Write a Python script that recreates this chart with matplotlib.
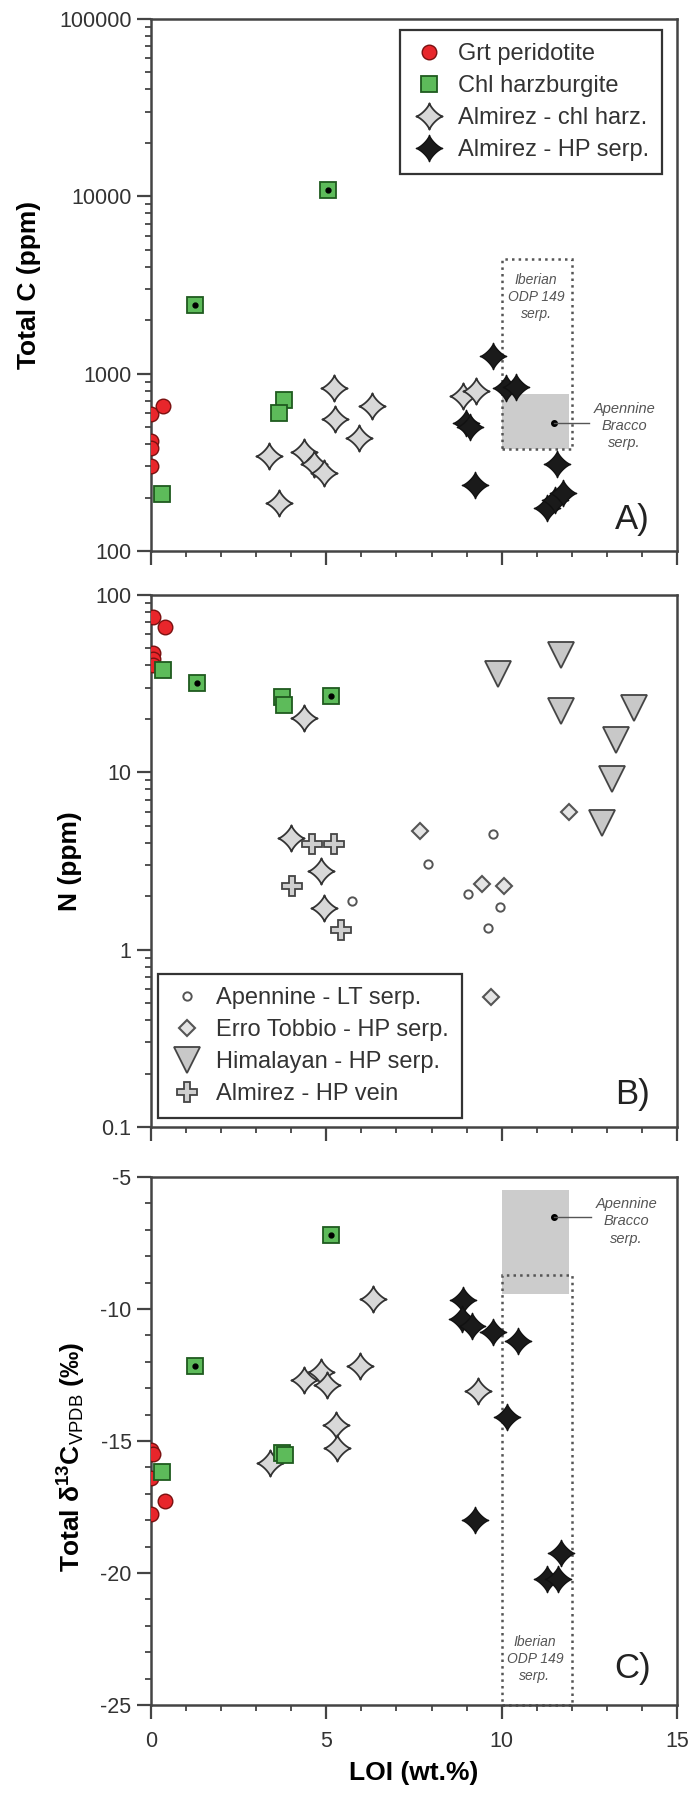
import matplotlib
matplotlib.use("Agg")
import matplotlib.pyplot as plt
import numpy as np
from matplotlib.path import Path
from matplotlib.patches import Rectangle
from matplotlib.ticker import MultipleLocator, LogLocator, FuncFormatter, NullFormatter

plt.rcParams.update({
    "font.family": ["Liberation Sans", "DejaVu Sans"],
    "mathtext.fontset": "custom",
    "mathtext.rm": "Liberation Sans",
    "mathtext.bf": "Liberation Sans:bold",
    "mathtext.it": "Liberation Sans:italic",
})

# ---- data: panel A (LOI wt.%, Total C ppm) ----
grt_loi_a = [0.0, 0.34, 0.0, 0.0, 0.0]
grt_c = [595, 659, 416, 383, 303]
chl_loi_a = [1.25, 5.06, 3.78, 3.64, 0.3]
chl_c = [2430, 10850, 710, 603, 209]
chl_dot_a = [True, True, False, False, False]
almc_loi_a = [3.36, 3.65, 4.37, 4.65, 4.94, 5.23, 5.25, 5.92, 6.3, 8.9, 9.28]
almc_c = [345, 186, 362, 311, 276, 832, 555, 436, 653, 750, 794]
alms_loi_a = [9.75, 10.13, 10.42, 8.97, 9.09, 9.23, 11.59, 11.3, 11.52, 11.74]
alms_c = [1262, 832, 840, 530, 501, 235, 311, 175, 195, 211]

# ---- data: panel B (LOI wt.%, N ppm) ----
grt_loi_b = [0.05, 0.4, 0.05, 0.05, 0.05]
grt_n = [74.6, 65.8, 46.9, 43.3, 40.4]
chl_loi_b = [0.34, 1.31, 3.74, 3.8, 5.13]
chl_n = [37.7, 32.0, 26.5, 24.0, 26.9]
chl_dot_b = [False, True, False, False, True]
almc_loi_b = [4.37, 3.99, 4.84, 4.94]
almc_n = [20.1, 4.28, 2.78, 1.71]
vein_loi = [4.6, 5.21, 4.03, 5.42]
vein_n = [3.95, 3.95, 2.28, 1.29]
apen_loi = [5.72, 7.9, 9.76, 9.03, 9.94, 9.6]
apen_n = [1.88, 3.03, 4.48, 2.06, 1.75, 1.32]
erro_loi = [7.68, 9.45, 10.08, 11.93, 9.69]
erro_n = [4.64, 2.33, 2.29, 6.0, 0.54]
him_loi = [9.89, 11.68, 11.68, 13.78, 13.27, 13.16, 12.87]
him_n = [36.0, 46.0, 22.2, 23.0, 15.2, 9.2, 5.2]

# ---- data: panel C (LOI wt.%, d13C permil) ----
grt_loi_c = [0.0, 0.05, 0.0, 0.4, 0.0]
grt_d13c = [-15.35, -15.5, -16.39, -17.26, -17.78]
chl_loi_c = [1.26, 5.13, 3.74, 3.83, 0.3]
chl_d13c = [-12.17, -7.21, -15.47, -15.52, -16.18]
chl_dot_c = [True, True, False, False, False]
almc_loi_c = [6.34, 4.37, 4.84, 5.03, 5.96, 5.28, 5.31, 3.39, 9.32]
almc_d13c = [-9.61, -12.69, -12.39, -12.88, -12.17, -14.39, -15.26, -15.83, -13.09]
alms_loi_c = [8.9, 8.88, 9.16, 9.75, 10.48, 10.16, 9.24, 11.68, 11.3, 11.61]
alms_d13c = [-9.66, -10.36, -10.65, -10.88, -11.21, -14.08, -17.99, -19.26, -20.22, -20.22]

# reference fields (LOI range, value range, centre point)
iberian_loi = [10.0, 12.0]
iberian_c = [375, 4400]
iberian_d13c = [-8.72, -25.0]
bracco_loi = [10.0, 11.92]
bracco_c = [375, 767]
bracco_d13c = [-5.5, -9.43]
bracco_pt_loi = 11.49
bracco_pt_c = 530
bracco_pt_d13c = -6.5

# ---- styles ----
t = np.linspace(0, 2 * np.pi, 121)
p = 2.6
star_verts = np.column_stack([np.sign(np.cos(t)) * np.abs(np.cos(t)) ** p,
                              np.sign(np.sin(t)) * np.abs(np.sin(t)) ** p])
STAR = Path(star_verts, closed=True)

S_GRT = dict(marker="o", ms=10.5, mfc="#e8262b", mec="#7a1010", mew=1.0, ls="none")
S_CHL = dict(marker="s", ms=12, mfc="#5dbb5a", mec="#1f5a1f", mew=1.3, ls="none")
S_ALMC = dict(marker=STAR, ms=19, mfc="#d8d8d8", mec="#333333", mew=1.3, ls="none")
S_ALMS = dict(marker=STAR, ms=19, mfc="#1a1a1a", mec="#111111", mew=1.0, ls="none")
S_APEN = dict(marker="o", ms=6, mfc="white", mec="#555555", mew=1.4, ls="none")
S_ERRO = dict(marker="D", ms=8, mfc="#e4e4e4", mec="#555555", mew=1.5, ls="none")
S_HIM = dict(marker="v", ms=19, mfc="#c8c8c8", mec="#444444", mew=1.3, ls="none")
S_VEIN = dict(marker="P", ms=14, mfc="#cfcfcf", mec="#444444", mew=1.3, ls="none")

SPINE = "#444444"
TXT = "#333333"
NOTE = "#555555"
LEG_KW = dict(fontsize=17, frameon=True, fancybox=False, framealpha=1, edgecolor="#333333",
              handlelength=1.35, handletextpad=0.55, labelspacing=0.42, borderpad=0.55,
              borderaxespad=0)

fig = plt.figure(figsize=(6.91, 18.0), dpi=100)
axA = fig.add_axes([0.2185, 0.6939, 0.7612, 0.2956])
axB = fig.add_axes([0.2185, 0.3739, 0.7612, 0.2956])
axC = fig.add_axes([0.2185, 0.0528, 0.7612, 0.2933])


def style_axes(ax, log):
    for sp in ax.spines.values():
        sp.set_color(SPINE)
        sp.set_linewidth(1.8)
    ax.set_xlim(0, 15)
    ax.xaxis.set_major_locator(MultipleLocator(5))
    ax.xaxis.set_minor_locator(MultipleLocator(1))
    ax.tick_params(axis="both", which="major", direction="out", length=10, width=1.6,
                   color=SPINE, labelsize=15.5, labelcolor=TXT)
    ax.tick_params(axis="both", which="minor", direction="out", length=4.5, width=1.3, color=SPINE)
    ax.tick_params(axis="x", which="major", pad=9)
    ax.tick_params(axis="y", which="major", pad=4)
    ax.tick_params(top=False, right=False, which="both")
    if log:
        ax.set_yscale("log")
        ax.yaxis.set_major_locator(LogLocator(base=10))
        ax.yaxis.set_minor_locator(LogLocator(base=10, subs=np.arange(2, 10)))
        ax.yaxis.set_major_formatter(FuncFormatter(lambda v, pos: f"{v:g}"))
        ax.yaxis.set_minor_formatter(NullFormatter())


def chl_plot(ax, xs, ys, dots):
    ax.plot(xs, ys, zorder=5, **S_CHL)
    ax.plot([x for x, d in zip(xs, dots) if d], [y for y, d in zip(ys, dots) if d],
            marker="o", ms=3.5, color="black", ls="none", zorder=6)


def finish_legend(leg):
    leg.get_frame().set_linewidth(1.6)
    for txt in leg.get_texts():
        txt.set_color(TXT)


# ---------- Panel A ----------
style_axes(axA, True)
axA.set_ylim(100, 100000)
axA.add_patch(Rectangle((bracco_loi[0], bracco_c[0]), bracco_loi[1] - bracco_loi[0],
                        bracco_c[1] - bracco_c[0], facecolor="#cccccc", edgecolor="none", zorder=1))
axA.add_patch(Rectangle((iberian_loi[0], iberian_c[0]), iberian_loi[1] - iberian_loi[0],
                        iberian_c[1] - iberian_c[0], facecolor="none", edgecolor="#555555",
                        ls=":", lw=1.8, zorder=2))
axA.plot(bracco_pt_loi, bracco_pt_c, "o", color="black", ms=4, zorder=3)
axA.plot([bracco_pt_loi, 12.5], [bracco_pt_c, bracco_pt_c], color="#555555", lw=1.0, zorder=3)
axA.text(13.5, 506, "Apennine\nBracco\nserp.", style="italic", fontsize=10.5, color=NOTE,
         ha="center", va="center", linespacing=1.3)
axA.text(10.98, 2710, "Iberian\nODP 149\nserp.", style="italic", fontsize=10, color=NOTE,
         ha="center", va="center", linespacing=1.3)
hA1, = axA.plot(grt_loi_a, grt_c, zorder=5, label="Grt peridotite", **S_GRT)
chl_plot(axA, chl_loi_a, chl_c, chl_dot_a)
hA2, = axA.plot([], [], label="Chl harzburgite", **S_CHL)
hA3, = axA.plot(almc_loi_a, almc_c, zorder=4, label="Almirez - chl harz.", **S_ALMC)
hA4, = axA.plot(alms_loi_a, alms_c, zorder=4, label="Almirez - HP serp.", **S_ALMS)
axA.text(13.74, 151, "A)", fontsize=25, ha="center", va="center", color="#222222")
axA.set_ylabel("Total C (ppm)", fontsize=19, fontweight="bold")
axA.yaxis.set_label_coords(-0.21, 0.5)
axA.tick_params(labelbottom=False)
legA = axA.legend(handles=[hA1, hA2, hA3, hA4], loc="upper right",
                  bbox_to_anchor=(0.9715, 0.979), **LEG_KW)
finish_legend(legA)

# ---------- Panel B ----------
style_axes(axB, True)
axB.set_ylim(0.1, 100)
axB.plot(grt_loi_b, grt_n, zorder=5, **S_GRT)
chl_plot(axB, chl_loi_b, chl_n, chl_dot_b)
axB.plot(almc_loi_b, almc_n, zorder=4, **S_ALMC)
hB1, = axB.plot(apen_loi, apen_n, zorder=4, label="Apennine - LT serp.", **S_APEN)
hB2, = axB.plot(erro_loi, erro_n, zorder=4, label="Erro Tobbio - HP serp.", **S_ERRO)
hB3, = axB.plot(him_loi, him_n, zorder=4, label="Himalayan - HP serp.", **S_HIM)
hB4, = axB.plot(vein_loi, vein_n, zorder=4, label="Almirez - HP vein", **S_VEIN)
axB.text(13.74, 0.153, "B)", fontsize=25, ha="center", va="center", color="#222222")
axB.set_ylabel("N (ppm)", fontsize=19, fontweight="bold")
axB.yaxis.set_label_coords(-0.131, 0.5)
axB.tick_params(labelbottom=False)
legB = axB.legend(handles=[hB1, hB2, hB3, hB4], loc="lower left",
                  bbox_to_anchor=(0.0133, 0.017), **LEG_KW)
finish_legend(legB)

# ---------- Panel C ----------
style_axes(axC, False)
axC.set_ylim(-25, -5)
axC.yaxis.set_major_locator(MultipleLocator(5))
axC.yaxis.set_minor_locator(MultipleLocator(1))
axC.yaxis.set_major_formatter(FuncFormatter(lambda v, pos: f"{v:g}"))
axC.add_patch(Rectangle((bracco_loi[0], bracco_d13c[1]), bracco_loi[1] - bracco_loi[0],
                        bracco_d13c[0] - bracco_d13c[1], facecolor="#cccccc", edgecolor="none", zorder=1))
axC.add_patch(Rectangle((iberian_loi[0], iberian_d13c[1]), iberian_loi[1] - iberian_loi[0],
                        iberian_d13c[0] - iberian_d13c[1], facecolor="none", edgecolor="#555555",
                        ls=":", lw=1.8, zorder=2, clip_on=False))
axC.plot(bracco_pt_loi, bracco_pt_d13c, "o", color="black", ms=4, zorder=3)
axC.plot([bracco_pt_loi, 12.55], [bracco_pt_d13c, bracco_pt_d13c], color="#555555", lw=1.0, zorder=3)
axC.text(13.55, -6.68, "Apennine\nBracco\nserp.", style="italic", fontsize=10.5, color=NOTE,
         ha="center", va="center", linespacing=1.3)
axC.text(10.95, -23.26, "Iberian\nODP 149\nserp.", style="italic", fontsize=10, color=NOTE,
         ha="center", va="center", linespacing=1.3)
axC.plot(grt_loi_c, grt_d13c, zorder=5, **S_GRT)
chl_plot(axC, chl_loi_c, chl_d13c, chl_dot_c)
axC.plot(almc_loi_c, almc_d13c, zorder=4, **S_ALMC)
axC.plot(alms_loi_c, alms_d13c, zorder=4, **S_ALMS)
axC.text(13.74, -23.6, "C)", fontsize=25, ha="center", va="center", color="#222222")
axC.set_ylabel(r"Total δ$^{\mathbf{13}}$C$_{\mathrm{VPDB}}$ (‰)", fontsize=19, fontweight="bold")
axC.yaxis.set_label_coords(-0.12, 0.47)
axC.set_xlabel("LOI (wt.%)", fontsize=19, fontweight="bold", labelpad=6)

fig.savefig("out.png", dpi=100)
